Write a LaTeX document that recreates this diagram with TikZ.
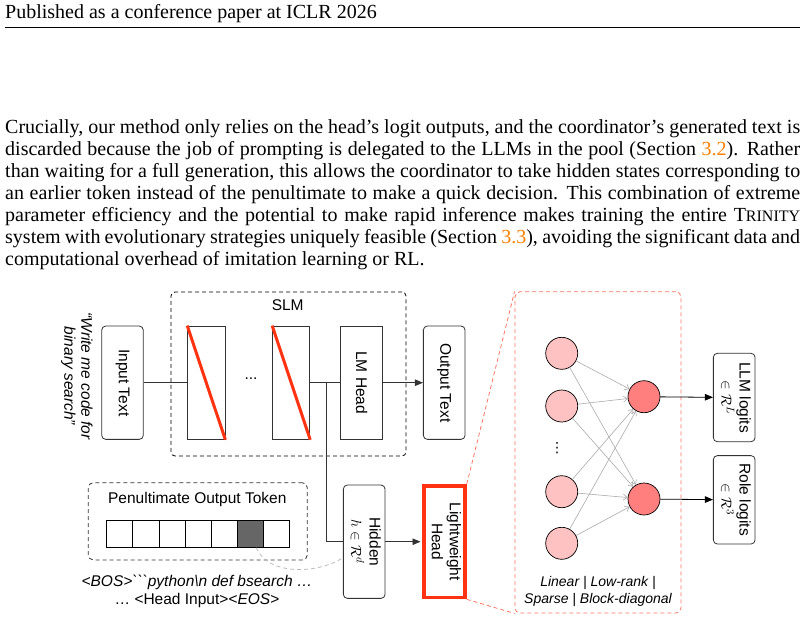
\documentclass[tikz,border=0pt]{standalone}
\usepackage{fontspec}
\setmainfont{Liberation Serif}
\newfontfamily\dsans{Liberation Sans}
\newfontfamily\dvsans{DejaVu Sans}
\usepackage{graphicx}
\usetikzlibrary{arrows.meta,calc}
\definecolor{hred}{HTML}{FF3311}
\definecolor{salmon}{HTML}{FF7466}
\definecolor{linkorange}{rgb}{1,0.5,0}
\definecolor{inpink}{HTML}{FFC2C2}
\definecolor{outpink}{HTML}{FF7F7F}
\definecolor{edgegray}{HTML}{ABABAB}
\definecolor{boxgray}{HTML}{333333}
\definecolor{darkcell}{HTML}{666666}
\definecolor{curvegray}{HTML}{BBBBBB}
\tikzset{
  box/.style={draw=boxgray, line width=0.8pt, fill=white, inner sep=0pt},
  rbox/.style={box, rounded corners=4pt},
  lbl/.style={font=\dsans\fontsize{15.5}{18}\selectfont},
  arr/.style={line width=0.8pt, -{Triangle[length=8pt,width=6.5pt]}},
  conn/.style={line width=0.8pt, draw=boxgray},
  redline/.style={draw=hred, line width=3pt},
  neuron/.style={circle, draw=black, line width=0.7pt, minimum size=32pt, inner sep=0pt},
  nedge/.style={draw=edgegray, line width=0.6pt, -{Straight Barb[length=4pt,width=6pt]}},
  body/.style={anchor=base west, inner sep=0pt, font=\fontsize{20}{22}\selectfont},
}
\begin{document}
\begin{tikzpicture}[x=1pt,y=-1pt]
\useasboundingbox (0,0) rectangle (805,619);
% header
\node[body] (hdr) at (5,18) {Published as a conference paper at ICLR 2026};
\draw[line width=0.8pt] (5,27) coordinate (rl) -- (800,27) coordinate (rr);
% body text
\node[body] (l1) at (5,133) {\makebox[795pt][s]{Crucially, our method only relies on the head’s logit outputs, and the coordinator’s generated text is}};
\node[body] (l2) at (5,155) {\makebox[795pt][s]{discarded because the job of prompting is delegated to the LLMs in the pool (Section \textcolor{linkorange}{3.2}).  Rather}};
\node[body] (l3) at (5,177) {\makebox[795pt][s]{than waiting for a full generation, this allows the coordinator to take hidden states corresponding to}};
\node[body] (l4) at (5,199) {\makebox[795pt][s]{an earlier token instead of the penultimate to make a quick decision.  This combination of extreme}};
\node[body] (l5) at (5,221) {\makebox[795pt][s]{parameter efficiency and the potential to make rapid inference makes training the entire T{\fontsize{16}{16}\selectfont RINITY}}};
\node[body] (l6) at (5,243) {\makebox[795pt][s]{system with evolutionary strategies uniquely feasible (Section \textcolor{linkorange}{3.3}), avoiding the significant data and}};
\node[body] (l7) at (5,265) {computational overhead of imitation learning or RL.};

% SLM box
\node[draw=black, line width=0.8pt, dash pattern=on 4pt off 3pt, rounded corners=4pt, minimum width=235pt, minimum height=164pt, inner sep=0pt] (slm) at (288.5,374) {};
\node[lbl] (slmlbl) at (287.7,305) {SLM};

% quote
\node[font=\dsans\itshape\fontsize{15.5}{17}\selectfont, align=center, rotate=-90] (quote) at (77,376) {“Write me code for\\binary search”};

% boxes
\node[rbox, lbl, minimum width=41.6pt, minimum height=113.3pt] (input) at (122.5,382.7) {\rotatebox{-90}{Input Text}};
\node[box, minimum width=37.3pt, minimum height=113.3pt] (layer1) at (206.3,382.7) {};
\node[box, minimum width=37.3pt, minimum height=113.3pt] (layer2) at (291.2,382.7) {};
\node[box, lbl, minimum width=42pt, minimum height=113.3pt] (lmhead) at (361.7,382.7) {\rotatebox{-90}{LM Head}};
\node[rbox, lbl, minimum width=41.7pt, minimum height=113.3pt] (output) at (444.2,382.7) {\rotatebox{-90}{Output Text}};
\draw[redline] (layer1.north west) -- (layer1.south east);
\draw[redline] (layer2.north west) -- (layer2.south east);
\node[lbl, anchor=base] (dots) at (251,379.5) {...};

\node[rbox, lbl, minimum width=41.7pt, minimum height=113.3pt] (hidden) at (364.2,541.7) {\rotatebox{-90}{\begin{tabular}{@{}c@{}}Hidden\\ $h\in\mathcal{R}^d$\end{tabular}}};
\node[draw=hred, fill=white, line width=3.5pt, lbl, minimum width=41pt, minimum height=111.8pt, inner sep=0pt] (lwhead) at (444.5,541.7) {\rotatebox{-90}{\begin{tabular}{@{}c@{}}Lightweight\\ Head\end{tabular}}};

% connectors
\draw[conn] (input) -- (layer1);
\draw[conn] (layer2) -- (lmhead);
\draw[conn, arr] (lmhead) -- (output);
\coordinate (br) at (326,382.7);
\draw[conn] (br) |- (hidden.west);
\draw[conn, arr, shorten >=1.75pt] (hidden) -- (lwhead);

% penultimate token box
\node[draw=boxgray, line width=0.8pt, dash pattern=on 4pt off 3pt, rounded corners=5pt, minimum width=219pt, minimum height=77.3pt, inner sep=0pt] (pbox) at (197.8,521.3) {};
\node[lbl] (ptitle) at (197.3,499) {Penultimate Output Token};
\foreach \k/\f in {1/white,2/white,3/white,4/white,5/white,6/darkcell,7/white}
  \node[box, draw=black, fill=\f, minimum width=26.1pt, minimum height=26.6pt] (t\k) at ({106.7+26.1*(\k-0.5)},534) {};
\draw[curvegray, line width=0.8pt, dash pattern=on 4pt off 3pt] ([xshift=6pt]t6.south) .. controls (268,576) and (318,574) .. ([yshift=-16pt]hidden.west);
\node[lbl, align=center] (ctx) at (197,591.5) {\textit{<BOS>\textasciigrave\textasciigrave\textasciigrave python\textbackslash n def bsearch \ldots}\\ \ldots{} <Head Input>\textit{<EOS>}};

% right detail box
\node[draw=salmon, line width=0.8pt, dash pattern=on 4pt off 3pt, rounded corners=5pt, minimum width=166pt, minimum height=321.3pt, inner sep=0pt] (headbox) at (598,452.4) {};
\draw[salmon, line width=0.8pt, dash pattern=on 4pt off 3pt] (lwhead.north east) -- (headbox.north west);
\draw[salmon, line width=0.8pt, dash pattern=on 4pt off 3pt] (lwhead.south east) -- (headbox.south west);

\node[neuron, fill=inpink] (i1) at (561.7,353.3) {};
\node[neuron, fill=inpink] (i2) at (561.7,406) {};
\node[neuron, fill=inpink] (i3) at (561.7,491.7) {};
\node[neuron, fill=inpink] (i4) at (561.7,543.3) {};
\node[neuron, fill=outpink] (o1) at (644,396.7) {};
\node[neuron, fill=outpink] (o2) at (644,499) {};
\node[font=\dvsans\fontsize{14}{14}\selectfont, inner sep=0pt] (vd) at (557,448) {⋮};
\foreach \a in {i1,i2,i3,i4}
  \foreach \b in {o1,o2}
    \draw[nedge] (\a) -- (\b);

\node[rbox, lbl, minimum width=41.7pt, minimum height=88.4pt] (llm) at (734.2,397.5) {\rotatebox{-90}{\begin{tabular}{@{}c@{}}LLM logits\\ $\in\mathcal{R}^L$\end{tabular}}};
\node[rbox, lbl, minimum width=41.7pt, minimum height=88.4pt] (role) at (734.2,499.8) {\rotatebox{-90}{\begin{tabular}{@{}c@{}}Role logits\\ $\in\mathcal{R}^3$\end{tabular}}};
\draw[conn, draw=black, arr] (o1) -- (llm);
\draw[conn, draw=black, arr] (o2) -- (role);

\node[font=\dsans\itshape\fontsize{14}{17.3}\selectfont, align=center] (cap) at (598,591.4) {Linear | Low-rank |\\Sparse | Block-diagonal};
\end{tikzpicture}
\end{document}
